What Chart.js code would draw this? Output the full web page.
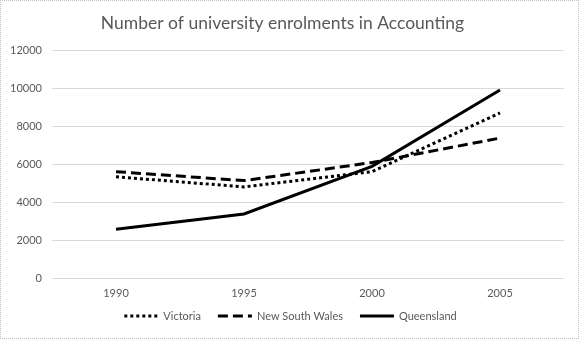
<!DOCTYPE html>
<html>
<head>
<meta charset="utf-8">
<script src="https://cdn.jsdelivr.net/npm/chart.js@4/dist/chart.umd.min.js"></script>
<style>
  html, body { margin: 0; padding: 0; background: #fff; }
  #wrap { width: 579px; height: 339px; position: relative; }
  #wrap::after {
    content: ''; position: absolute; left: 0; top: 0; right: 0; bottom: 0;
    border: 1px dotted #bfbfbf; pointer-events: none;
  }
  canvas { display: block; }
</style>
</head>
<body>
<div id="wrap"><canvas id="enrolChart" width="579" height="339"></canvas></div>
<script>
// Datos
const years = ['1990', '1995', '2000', '2005'];
const victoria = [5350, 4820, 5620, 8700];
const newSouthWales = [5620, 5150, 6100, 7380];
const queensland = [2600, 3400, 5900, 9900];

const FONT = 'Lato, "Open Sans", sans-serif';

// Leyenda estilo Excel: muestra de línea + texto, centrada bajo el gráfico
const excelLegend = {
    id: 'excelLegend',
    afterDraw: function(chart) {
        const ctx = chart.ctx;
        const sample = 34, gapText = 5, gapItem = 17;
        const y = 316;
        ctx.save();
        ctx.font = '11px ' + FONT;
        const items = chart.data.datasets.map(function(ds) {
            return { ds: ds, w: ctx.measureText(ds.label).width };
        });
        const total = items.reduce(function(s, it) { return s + sample + gapText + it.w; }, 0)
            + gapItem * (items.length - 1);
        let x = (chart.width - total) / 2 + 1;
        items.forEach(function(it) {
            ctx.beginPath();
            ctx.setLineDash(it.ds.borderDash || []);
            ctx.lineWidth = it.ds.borderWidth;
            ctx.strokeStyle = it.ds.borderColor;
            ctx.moveTo(x, y);
            ctx.lineTo(x + sample, y);
            ctx.stroke();
            ctx.setLineDash([]);
            ctx.fillStyle = '#595959';
            ctx.textBaseline = 'middle';
            ctx.fillText(it.ds.label, x + sample + gapText, y);
            x += sample + gapText + it.w + gapItem;
        });
        ctx.restore();
    }
};

document.addEventListener('DOMContentLoaded', function() {
    const ctx = document.getElementById('enrolChart').getContext('2d');

    const baseLine = {
        borderColor: '#000',
        backgroundColor: '#000',
        borderWidth: 3,
        fill: false,
        tension: 0,
        pointRadius: 0,
        pointHoverRadius: 0
    };

    new Chart(ctx, {
        type: 'line',
        data: {
            labels: years,
            datasets: [
                Object.assign({}, baseLine, {
                    label: 'Victoria',
                    data: victoria,
                    borderDash: [3, 3]
                }),
                Object.assign({}, baseLine, {
                    label: 'New South Wales',
                    data: newSouthWales,
                    borderDash: [10, 5]
                }),
                Object.assign({}, baseLine, {
                    label: 'Queensland',
                    data: queensland
                })
            ]
        },
        plugins: [excelLegend],
        options: {
            responsive: false,
            animation: false,
            layout: {
                padding: { top: 8, right: 15, bottom: 31, left: 1 }
            },
            plugins: {
                title: {
                    display: true,
                    text: 'Number of university enrolments in Accounting',
                    color: '#595959',
                    font: { family: FONT, size: 17.5, weight: 'normal' },
                    padding: { top: 5, bottom: 16 }
                },
                legend: { display: false },
                tooltip: { enabled: false }
            },
            scales: {
                x: {
                    offset: true,
                    grid: { display: false, drawTicks: false },
                    border: { display: false },
                    ticks: {
                        color: '#595959',
                        font: { family: FONT, size: 11 },
                        padding: 8
                    }
                },
                y: {
                    min: 0,
                    max: 12000,
                    ticks: {
                        stepSize: 2000,
                        color: '#595959',
                        font: { family: FONT, size: 11 },
                        padding: 10,
                        callback: function(value) {
                            return String(value);
                        }
                    },
                    grid: { color: '#d9d9d9', drawTicks: false },
                    border: { display: false },
                    afterFit: function(scale) {
                        scale.width = 51;
                    }
                }
            }
        }
    });
});
</script>
</body>
</html>
